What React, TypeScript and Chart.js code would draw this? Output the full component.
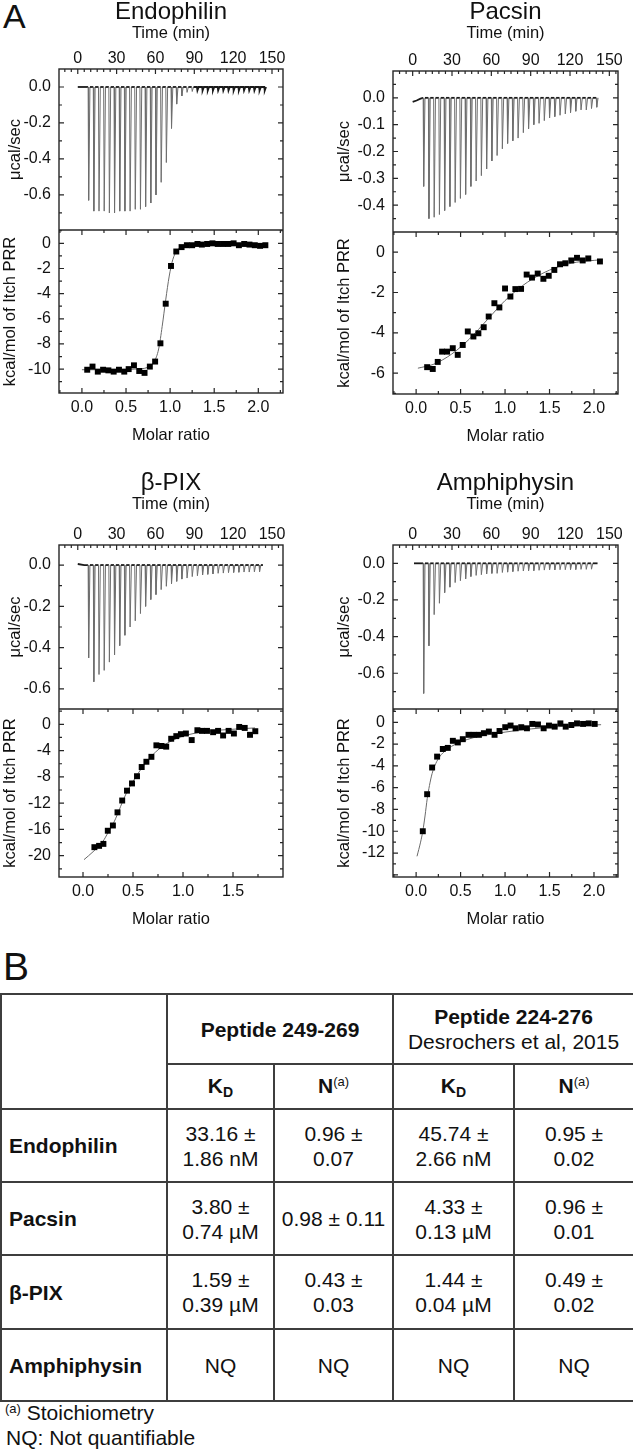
import React, { useEffect, useRef } from 'react';
import { Chart, registerables } from 'chart.js';

Chart.register(...registerables);

const FONT = '"Liberation Sans", Arial, Helvetica, sans-serif';
const INK = '#111111';

// ---------------- shared tick labels ----------------
const timeTickLabels = [0, 30, 60, 90, 120, 150];
const ratioTickLabels = [0, 0.5, 1, 1.5, 2];
const bpixRatioTickLabels = [0, 0.5, 1, 1.5];
const ucalLabelsWide = [0, -0.2, -0.4, -0.6];
const pacUcalLabels = [0, -0.1, -0.2, -0.3, -0.4];
const endoHeatLabels = [0, -2, -4, -6, -8, -10];
const pacHeatLabels = [0, -2, -4, -6];
const bpixHeatLabels = [0, -4, -8, -12, -16, -20];
const amphHeatLabels = [0, -2, -4, -6, -8, -10, -12];

// ---------------- Endophilin ----------------
const endoInjectionMin = [8, 12, 16, 20, 24, 28, 32, 36, 40, 44, 48, 52, 56, 60, 64, 68, 72, 76, 80, 84, 88, 92, 96, 100, 104, 108, 112, 116, 120, 124, 128, 132, 136, 140, 144];
const endoPeakUcal = [-0.63, -0.69, -0.69, -0.69, -0.7, -0.7, -0.69, -0.69, -0.69, -0.68, -0.68, -0.665, -0.645, -0.6, -0.53, -0.42, -0.23, -0.095, -0.05, -0.03, -0.025, -0.02, -0.02, -0.02, -0.02, -0.02, -0.02, -0.02, -0.02, -0.02, -0.02, -0.02, -0.02, -0.02, -0.02];
const endoTraceStart = [[0, 0]];
const endoTraceEndMin = 146;
const endoMolarRatio = [0.06, 0.12, 0.18, 0.24, 0.3, 0.36, 0.42, 0.48, 0.53, 0.59, 0.65, 0.71, 0.77, 0.83, 0.89, 0.95, 1.01, 1.07, 1.13, 1.19, 1.25, 1.31, 1.36, 1.42, 1.48, 1.54, 1.6, 1.66, 1.72, 1.78, 1.84, 1.9, 1.96, 2.02, 2.08];
const endoHeat = [-10.05, -9.8, -10.2, -10.05, -10.1, -10.2, -10.05, -10.2, -10.0, -9.7, -10.15, -10.3, -9.8, -9.4, -7.95, -4.8, -1.8, -0.65, -0.3, -0.15, -0.15, -0.05, -0.1, -0.05, 0.0, -0.05, -0.05, -0.05, 0.0, -0.15, -0.05, -0.1, -0.15, -0.2, -0.15];
const endoFitRatio = [0.0, 0.3, 0.6, 0.75, 0.82, 0.87, 0.91, 0.95, 0.99, 1.03, 1.08, 1.15, 1.3, 1.6, 2.08];
const endoFitHeat = [-10.05, -10.05, -10.0, -9.85, -9.4, -8.4, -6.6, -4.5, -2.6, -1.3, -0.55, -0.25, -0.1, -0.05, -0.05];

// ---------------- Pacsin ----------------
const pacInjectionMin = [8, 12, 16, 20, 24, 28, 32, 36, 40, 44, 48, 52, 56, 60, 64, 68, 72, 76, 80, 84, 88, 92, 96, 100, 104, 108, 112, 116, 120, 124, 128, 132, 136, 140];
const pacPeakUcal = [-0.33, -0.45, -0.445, -0.435, -0.42, -0.405, -0.39, -0.375, -0.36, -0.33, -0.31, -0.29, -0.265, -0.235, -0.215, -0.19, -0.17, -0.16, -0.15, -0.13, -0.115, -0.1, -0.095, -0.085, -0.075, -0.07, -0.065, -0.06, -0.055, -0.05, -0.045, -0.045, -0.04, -0.035];
const pacTraceStart = [[0, -0.015], [3, -0.01], [6, -0.003]];
const pacTraceEndMin = 142;
const pacMolarRatio = [0.124, 0.187, 0.243, 0.292, 0.348, 0.412, 0.468, 0.524, 0.581, 0.644, 0.7, 0.76, 0.816, 0.88, 0.936, 1.0, 1.06, 1.116, 1.18, 1.243, 1.303, 1.367, 1.431, 1.491, 1.554, 1.618, 1.678, 1.745, 1.809, 1.873, 1.936, 2.067];
const pacHeat = [-5.7, -5.79, -5.44, -4.93, -4.93, -4.76, -5.09, -4.6, -3.93, -4.18, -4.02, -3.72, -3.19, -2.53, -2.74, -1.8, -2.2, -1.83, -1.82, -1.11, -1.26, -1.06, -1.32, -1.17, -0.88, -0.6, -0.55, -0.41, -0.28, -0.41, -0.31, -0.46];
const pacFitRatio = [0.02, 0.2, 0.4, 0.6, 0.8, 1.0, 1.2, 1.4, 1.6, 1.8, 2.07];
const pacFitHeat = [-5.75, -5.55, -5.05, -4.3, -3.35, -2.4, -1.65, -1.1, -0.72, -0.5, -0.38];

// ---------------- beta-PIX ----------------
const bpixInjectionMin = [8, 12, 16, 20, 24, 28, 32, 36, 40, 44, 48, 52, 56, 60, 64, 68, 72, 76, 80, 84, 88, 92, 96, 100, 104, 108, 112, 116, 120, 124, 128, 132, 136, 140];
const bpixPeakUcal = [-0.45, -0.565, -0.53, -0.51, -0.47, -0.435, -0.39, -0.34, -0.3, -0.27, -0.235, -0.2, -0.167, -0.143, -0.119, -0.103, -0.09, -0.079, -0.068, -0.063, -0.056, -0.052, -0.048, -0.045, -0.043, -0.04, -0.039, -0.037, -0.036, -0.035, -0.034, -0.034, -0.033, -0.032];
const bpixTraceStart = [[0, 0.005], [5, 0]];
const bpixTraceEndMin = 143;
const bpixMolarRatio = [0.114, 0.161, 0.204, 0.248, 0.299, 0.345, 0.392, 0.44, 0.49, 0.54, 0.587, 0.634, 0.684, 0.734, 0.785, 0.832, 0.882, 0.933, 0.979, 1.029, 1.087, 1.144, 1.19, 1.24, 1.301, 1.351, 1.401, 1.456, 1.509, 1.562, 1.617, 1.67, 1.723];
const bpixHeat = [-18.7, -18.5, -18.2, -16.2, -15.4, -13.4, -11.6, -10.1, -9.0, -7.9, -6.5, -5.7, -4.95, -3.2, -3.3, -3.4, -2.2, -1.8, -1.5, -1.4, -2.4, -0.9, -1.0, -1.0, -1.2, -1.0, -1.7, -1.0, -1.4, -0.4, -0.55, -1.6, -1.05];
const bpixFitRatio = [0.01, 0.1, 0.2, 0.25, 0.3, 0.35, 0.4, 0.45, 0.5, 0.55, 0.6, 0.7, 0.8, 0.9, 1.0, 1.2, 1.4, 1.72];
const bpixFitHeat = [-20.6, -19.4, -17.8, -16.5, -15.2, -13.5, -11.6, -10.0, -8.7, -7.5, -6.4, -4.6, -3.3, -2.4, -1.8, -1.15, -0.85, -0.55];

// ---------------- Amphiphysin ----------------
const amphInjectionMin = [8, 12, 16, 20, 24, 28, 32, 36, 40, 44, 48, 52, 56, 60, 64, 68, 72, 76, 80, 84, 88, 92, 96, 100, 104, 108, 112, 116, 120, 124, 128, 132, 136];
const amphPeakUcal = [-0.71, -0.45, -0.28, -0.218, -0.16, -0.13, -0.105, -0.095, -0.085, -0.072, -0.066, -0.062, -0.058, -0.055, -0.055, -0.05, -0.048, -0.045, -0.043, -0.042, -0.04, -0.04, -0.038, -0.037, -0.036, -0.036, -0.035, -0.035, -0.034, -0.034, -0.033, -0.033, -0.032];
const amphTraceStart = [[1, 0]];
const amphTraceEndMin = 141;
const amphMolarRatio = [0.075, 0.124, 0.18, 0.236, 0.3, 0.356, 0.413, 0.469, 0.525, 0.589, 0.646, 0.706, 0.762, 0.818, 0.882, 0.938, 1.002, 1.062, 1.119, 1.182, 1.246, 1.306, 1.37, 1.434, 1.494, 1.558, 1.622, 1.682, 1.745, 1.809, 1.877, 1.941, 2.008];
const amphHeat = [-10.0, -6.6, -4.15, -3.15, -2.45, -2.35, -1.7, -1.85, -1.55, -1.15, -1.15, -1.15, -1.0, -0.85, -1.15, -0.8, -0.45, -0.3, -0.55, -0.45, -0.55, -0.15, -0.2, -0.55, -0.3, -0.4, -0.1, -0.4, -0.25, -0.1, -0.15, -0.1, -0.15];
const amphFitRatio = [0.01, 0.05, 0.075, 0.1, 0.125, 0.15, 0.18, 0.22, 0.27, 0.33, 0.4, 0.5, 0.65, 0.8, 1.0, 1.3, 1.6, 2.08];
const amphFitHeat = [-12.3, -11.0, -10.0, -8.6, -7.0, -5.8, -4.7, -3.8, -3.1, -2.6, -2.2, -1.8, -1.4, -1.15, -0.9, -0.6, -0.4, -0.22];

// ---------------- Table (panel B) ----------------
const tableProteins = ['Endophilin', 'Pacsin', 'β-PIX', 'Amphiphysin'];
const kd249 = [['33.16 ±', '1.86 nM'], ['3.80 ±', '0.74 µM'], ['1.59 ±', '0.39 µM'], ['NQ']];
const n249 = [['0.96 ±', '0.07'], ['0.98 ± 0.11'], ['0.43 ±', '0.03'], ['NQ']];
const kd224 = [['45.74 ±', '2.66 nM'], ['4.33 ±', '0.13 µM'], ['1.44 ±', '0.04 µM'], ['NQ']];
const n224 = [['0.95 ±', '0.02'], ['0.96 ±', '0.01'], ['0.49 ±', '0.02'], ['NQ']];
const headerPeptideA = 'Peptide 249-269';
const headerPeptideB = 'Peptide 224-276';
const headerPeptideBRef = 'Desrochers et al, 2015';
const footnoteA = ' Stoichiometry';
const footnoteNQ = 'NQ: Not quantifiable';

type Geom = { cx: number; cy: number; w: number; h: number; left: number; right: number; top: number; mid: number; bottom: number };

type ItcSpec = {
  name: string;
  geom: Geom;
  injectionMin: number[];
  peakUcal: number[];
  traceStart: number[][];
  traceEndMin: number;
  molarRatio: number[];
  heat: number[];
  fitRatio: number[];
  fitHeat: number[];
  timeRange: number[];
  ucalRange: number[];
  ratioRange: number[];
  heatRange: number[];
  ucalLabels: number[];
  ratioLabels: number[];
  heatLabels: number[];
  ucalMinor: number;
  heatMinor: number;
  ucalTitlePad: number;
  kcalTitlePad: number;
};

const specs: ItcSpec[] = [
  {
    name: 'Endophilin',
    geom: { cx: 0, cy: 0, w: 316, h: 445, left: 59, right: 283, top: 69, mid: 230, bottom: 393 },
    injectionMin: endoInjectionMin, peakUcal: endoPeakUcal, traceStart: endoTraceStart, traceEndMin: endoTraceEndMin,
    molarRatio: endoMolarRatio, heat: endoHeat, fitRatio: endoFitRatio, fitHeat: endoFitHeat,
    timeRange: [-14.5, 158.5], ucalRange: [-0.795, 0.1], ratioRange: [-0.26, 2.28], heatRange: [-11.9, 1.06],
    ucalLabels: ucalLabelsWide, ratioLabels: ratioTickLabels, heatLabels: endoHeatLabels,
    ucalMinor: 0.1, heatMinor: 1, ucalTitlePad: 6, kcalTitlePad: 1,
  },
  {
    name: 'Pacsin',
    geom: { cx: 316, cy: 0, w: 317, h: 446, left: 393, right: 618, top: 71, mid: 232, bottom: 394 },
    injectionMin: pacInjectionMin, peakUcal: pacPeakUcal, traceStart: pacTraceStart, traceEndMin: pacTraceEndMin,
    molarRatio: pacMolarRatio, heat: pacHeat, fitRatio: pacFitRatio, fitHeat: pacFitHeat,
    timeRange: [-15, 156.6], ucalRange: [-0.5, 0.1], ratioRange: [-0.26, 2.27], heatRange: [-7.03, 1.0],
    ucalLabels: pacUcalLabels, ratioLabels: ratioTickLabels, heatLabels: pacHeatLabels,
    ucalMinor: 0.05, heatMinor: 1, ucalTitlePad: 19, kcalTitlePad: 19,
  },
  {
    name: 'β-PIX',
    geom: { cx: 0, cy: 471, w: 316, h: 458, left: 59, right: 283, top: 545, mid: 709, bottom: 877 },
    injectionMin: bpixInjectionMin, peakUcal: bpixPeakUcal, traceStart: bpixTraceStart, traceEndMin: bpixTraceEndMin,
    molarRatio: bpixMolarRatio, heat: bpixHeat, fitRatio: bpixFitRatio, fitHeat: bpixFitHeat,
    timeRange: [-14.5, 158.5], ucalRange: [-0.697, 0.097], ratioRange: [-0.24, 2.0], heatRange: [-23.24, 2.33],
    ucalLabels: ucalLabelsWide, ratioLabels: bpixRatioTickLabels, heatLabels: bpixHeatLabels,
    ucalMinor: 0.1, heatMinor: 2, ucalTitlePad: 6, kcalTitlePad: 1,
  },
  {
    name: 'Amphiphysin',
    geom: { cx: 316, cy: 471, w: 317, h: 458, left: 393, right: 618, top: 545, mid: 709, bottom: 877 },
    injectionMin: amphInjectionMin, peakUcal: amphPeakUcal, traceStart: amphTraceStart, traceEndMin: amphTraceEndMin,
    molarRatio: amphMolarRatio, heat: amphHeat, fitRatio: amphFitRatio, fitHeat: amphFitHeat,
    timeRange: [-15, 156.6], ucalRange: [-0.795, 0.1], ratioRange: [-0.26, 2.27], heatRange: [-14.2, 1.22],
    ucalLabels: ucalLabelsWide, ratioLabels: ratioTickLabels, heatLabels: amphHeatLabels,
    ucalMinor: 0.1, heatMinor: 1, ucalTitlePad: 19, kcalTitlePad: 19,
  },
];

const TITLE_BOX = 24;

function ItcChart({ spec }: { spec: ItcSpec }) {
  const ref = useRef<HTMLCanvasElement | null>(null);

  useEffect(() => {
    const canvas = ref.current;
    if (!canvas) return;
    const g = spec.geom;

    const trace: { x: number; y: number }[] = spec.traceStart.map(([x, y]) => ({ x, y }));
    spec.injectionMin.forEach((t, i) => {
      trace.push({ x: t, y: 0 }, { x: t + 0.4, y: spec.peakUcal[i] }, { x: t + 1.4, y: 0 });
    });
    trace.push({ x: spec.traceEndMin, y: 0 });
    const points = spec.molarRatio.map((x, i) => ({ x, y: spec.heat[i] }));
    const fit = spec.fitRatio.map((x, i) => ({ x, y: spec.fitHeat[i] }));

    const ucalMajor = Math.abs(spec.ucalLabels[1] - spec.ucalLabels[0]);
    const heatMajor = Math.abs(spec.heatLabels[1] - spec.heatLabels[0]);

    const tickFont = { family: FONT, size: 16 };
    const axisTitleFont = { family: FONT, size: 16.5 };

    const framePlugin = {
      id: 'itcFrame',
      afterDatasetsDraw(chart: any) {
        const { ctx, chartArea: a } = chart;
        const xT = chart.scales.xTop;
        const xB = chart.scales.xBot;
        const yT = chart.scales.yTop;
        const yB = chart.scales.yBot;
        const mid = yT.bottom;
        const seq = (min: number, max: number, step: number) => {
          const out: number[] = [];
          const start = Math.ceil(min / step - 1e-7);
          for (let k = start; k * step <= max + 1e-7; k++) out.push(k * step);
          return out;
        };
        const isMajor = (v: number, step: number) => Math.abs(v / step - Math.round(v / step)) < 1e-6;
        ctx.save();
        ctx.strokeStyle = '#262626';
        ctx.lineWidth = 1.2;
        ctx.beginPath();
        const hTicks = (scale: any, y0: number, dir: number, majorStep: number, minorStep: number) => {
          for (const v of seq(scale.min, scale.max, minorStep)) {
            const x = scale.getPixelForValue(v);
            if (x <= a.left + 0.5 || x >= a.right - 0.5) continue;
            const len = isMajor(v, majorStep) ? 5 : 3;
            ctx.moveTo(x, y0);
            ctx.lineTo(x, y0 + dir * len);
          }
        };
        const vTicks = (scale: any, majorStep: number, minorStep: number) => {
          for (const v of seq(scale.min, scale.max, minorStep)) {
            const y = scale.getPixelForValue(v);
            if (y <= scale.top + 0.5 || y >= scale.bottom - 0.5) continue;
            const len = isMajor(v, majorStep) ? 5 : 3;
            ctx.moveTo(a.left, y);
            ctx.lineTo(a.left + len, y);
            ctx.moveTo(a.right, y);
            ctx.lineTo(a.right - len, y);
          }
        };
        hTicks(xT, a.top, 1, 30, 5);
        hTicks(xB, a.bottom, -1, 0.5, 0.25);
        hTicks(xB, mid, 1, 0.5, 0.25);
        vTicks(yT, ucalMajor, spec.ucalMinor);
        vTicks(yB, heatMajor, spec.heatMinor);
        ctx.stroke();
        ctx.lineWidth = 1.4;
        ctx.strokeRect(a.left, a.top, a.right - a.left, a.bottom - a.top);
        ctx.beginPath();
        ctx.moveTo(a.left, mid);
        ctx.lineTo(a.right, mid);
        ctx.stroke();
        ctx.restore();
      },
    };

    const quiet = (c: any) => Math.max(Math.abs(c.p0.parsed.y), Math.abs(c.p1.parsed.y)) < 0.025;

    const chart = new Chart(canvas, {
      type: 'line',
      data: {
        datasets: [
          {
            label: 'injections',
            data: points,
            xAxisID: 'xBot',
            yAxisID: 'yBot',
            showLine: false,
            pointStyle: 'rect',
            pointRadius: 4.2,
            pointHoverRadius: 4.2,
            pointBackgroundColor: '#000000',
            pointBorderWidth: 0,
            order: 0,
          },
          {
            label: 'fit',
            data: fit,
            xAxisID: 'xBot',
            yAxisID: 'yBot',
            borderColor: '#6a6a6a',
            borderWidth: 1,
            pointRadius: 0,
            cubicInterpolationMode: 'monotone',
            order: 1,
          },
          {
            label: 'raw',
            data: trace,
            xAxisID: 'xTop',
            yAxisID: 'yTop',
            borderColor: '#6e6e6e',
            borderWidth: 1,
            pointRadius: 0,
            tension: 0,
            segment: {
              borderColor: (c: any) => (quiet(c) ? '#1a1a1a' : '#6e6e6e'),
              borderWidth: (c: any) => (quiet(c) ? 1.8 : 1),
            },
            order: 2,
          },
        ],
      } as any,
      options: {
        responsive: false,
        animation: false,
        devicePixelRatio: 1,
        events: [],
        layout: { padding: { left: 0, top: 0, bottom: 0, right: g.w - (g.right - g.cx) } },
        plugins: {
          legend: { display: false },
          tooltip: { enabled: false },
          title: {
            display: true,
            text: spec.name,
            fullSize: false,
            color: INK,
            font: { family: FONT, size: 24, weight: 'normal', lineHeight: 1 },
            padding: { top: 0, bottom: 0 },
          },
        },
        scales: {
          xTop: {
            type: 'linear',
            position: 'top',
            min: spec.timeRange[0],
            max: spec.timeRange[1],
            afterBuildTicks: (s: any) => { s.ticks = timeTickLabels.map((v) => ({ value: v })); },
            afterFit: (s: any) => { s.height = g.top - g.cy - TITLE_BOX; },
            ticks: { font: tickFont, color: INK, padding: 1, autoSkip: false, maxRotation: 0, callback: (v: any) => String(v) },
            grid: { display: false, drawTicks: false },
            border: { display: false },
            title: { display: true, text: 'Time (min)', color: INK, font: axisTitleFont, padding: { top: 0, bottom: 0 } },
          },
          xBot: {
            type: 'linear',
            position: 'bottom',
            min: spec.ratioRange[0],
            max: spec.ratioRange[1],
            afterBuildTicks: (s: any) => { s.ticks = spec.ratioLabels.map((v) => ({ value: v })); },
            afterFit: (s: any) => { s.height = g.cy + g.h - g.bottom; },
            ticks: { font: tickFont, color: INK, padding: 5, autoSkip: false, maxRotation: 0, callback: (v: any) => Number(v).toFixed(1) },
            grid: { display: false, drawTicks: false },
            border: { display: false },
            title: { display: true, text: 'Molar ratio', color: INK, font: axisTitleFont, padding: { top: 0, bottom: 0 } },
          },
          yBot: {
            type: 'linear',
            position: 'left',
            stack: 'itc',
            stackWeight: g.bottom - g.mid,
            min: spec.heatRange[0],
            max: spec.heatRange[1],
            afterBuildTicks: (s: any) => { s.ticks = spec.heatLabels.map((v) => ({ value: v })); },
            afterFit: (s: any) => { s.width = g.left - g.cx; },
            ticks: { font: tickFont, color: INK, padding: 8, autoSkip: false, callback: (v: any) => String(v) },
            grid: { display: false, drawTicks: false },
            border: { display: false },
            title: { display: true, text: 'kcal/mol of Itch PRR', color: INK, font: axisTitleFont, padding: { top: spec.kcalTitlePad, bottom: 0 } },
          },
          yTop: {
            type: 'linear',
            position: 'left',
            stack: 'itc',
            stackWeight: g.mid - g.top,
            min: spec.ucalRange[0],
            max: spec.ucalRange[1],
            afterBuildTicks: (s: any) => { s.ticks = spec.ucalLabels.map((v) => ({ value: v })); },
            afterFit: (s: any) => { s.width = g.left - g.cx; },
            ticks: { font: tickFont, color: INK, padding: 8, autoSkip: false, callback: (v: any) => Number(v).toFixed(1) },
            grid: { display: false, drawTicks: false },
            border: { display: false },
            title: { display: true, text: 'μcal/sec', color: INK, font: axisTitleFont, padding: { top: spec.ucalTitlePad, bottom: 0 } },
          },
        },
      } as any,
      plugins: [framePlugin],
    });

    return () => chart.destroy();
  }, [spec]);

  const g = spec.geom;
  return (
    <div style={{ position: 'absolute', left: g.cx, top: g.cy, width: g.w, height: g.h }}>
      <canvas ref={ref} width={g.w} height={g.h} style={{ display: 'block', width: g.w, height: g.h }} />
    </div>
  );
}

const cellBase: React.CSSProperties = {
  border: '2px solid #3d3d3d',
  padding: 0,
  textAlign: 'center',
  verticalAlign: 'middle',
  fontSize: 21,
  lineHeight: '25px',
  whiteSpace: 'nowrap',
};

function Lines({ lines }: { lines: string[] }) {
  return (
    <>
      {lines.map((l, i) => (
        <div key={i}>{l}</div>
      ))}
    </>
  );
}

function ResultTable() {
  const rowHeights = [73, 73, 74, 72];
  return (
    <table
      style={{
        position: 'absolute',
        left: 0,
        top: 993,
        width: 633,
        borderCollapse: 'collapse',
        tableLayout: 'fixed',
        fontFamily: FONT,
        color: INK,
      }}
    >
      <colgroup>
        <col style={{ width: 166 }} />
        <col style={{ width: 107 }} />
        <col style={{ width: 119 }} />
        <col style={{ width: 121 }} />
        <col style={{ width: 120 }} />
      </colgroup>
      <tbody>
        <tr style={{ height: 70 }}>
          <td rowSpan={2} style={cellBase}></td>
          <td colSpan={2} style={{ ...cellBase, fontWeight: 'bold' }}>{headerPeptideA}</td>
          <td colSpan={2} style={cellBase}>
            <div style={{ fontWeight: 'bold' }}>{headerPeptideB}</div>
            <div>{headerPeptideBRef}</div>
          </td>
        </tr>
        <tr style={{ height: 45 }}>
          {[0, 1].map((k) => (
            <React.Fragment key={k}>
              <td style={{ ...cellBase, fontWeight: 'bold' }}>
                K<span style={{ fontSize: 14, position: 'relative', top: 4 }}>D</span>
              </td>
              <td style={{ ...cellBase, fontWeight: 'bold' }}>
                N<span style={{ fontSize: 13, fontWeight: 'normal', position: 'relative', top: -7 }}>(a)</span>
              </td>
            </React.Fragment>
          ))}
        </tr>
        {tableProteins.map((p, i) => (
          <tr key={p} style={{ height: rowHeights[i] }}>
            <td style={{ ...cellBase, textAlign: 'left', paddingLeft: 7, fontWeight: 'bold' }}>{p}</td>
            <td style={cellBase}><Lines lines={kd249[i]} /></td>
            <td style={cellBase}><Lines lines={n249[i]} /></td>
            <td style={cellBase}><Lines lines={kd224[i]} /></td>
            <td style={cellBase}><Lines lines={n224[i]} /></td>
          </tr>
        ))}
      </tbody>
    </table>
  );
}

export default function App() {
  return (
    <div
      style={{
        position: 'absolute',
        left: 0,
        top: 0,
        width: 633,
        height: 1452,
        background: '#ffffff',
        overflow: 'hidden',
        fontFamily: FONT,
        color: INK,
      }}
    >
      <div style={{ position: 'absolute', left: 3, top: -1, fontSize: 34, lineHeight: '34px' }}>A</div>
      {specs.map((s) => (
        <ItcChart key={s.name} spec={s} />
      ))}
      <div style={{ position: 'absolute', left: 3, top: 947, fontSize: 39, lineHeight: '39px' }}>B</div>
      <ResultTable />
      <div style={{ position: 'absolute', left: 5, top: 1400, fontSize: 21, lineHeight: '25px' }}>
        <span style={{ fontSize: 13, position: 'relative', top: -7 }}>(a)</span>
        {footnoteA}
      </div>
      <div style={{ position: 'absolute', left: 6, top: 1425, fontSize: 21, lineHeight: '25px' }}>{footnoteNQ}</div>
    </div>
  );
}
